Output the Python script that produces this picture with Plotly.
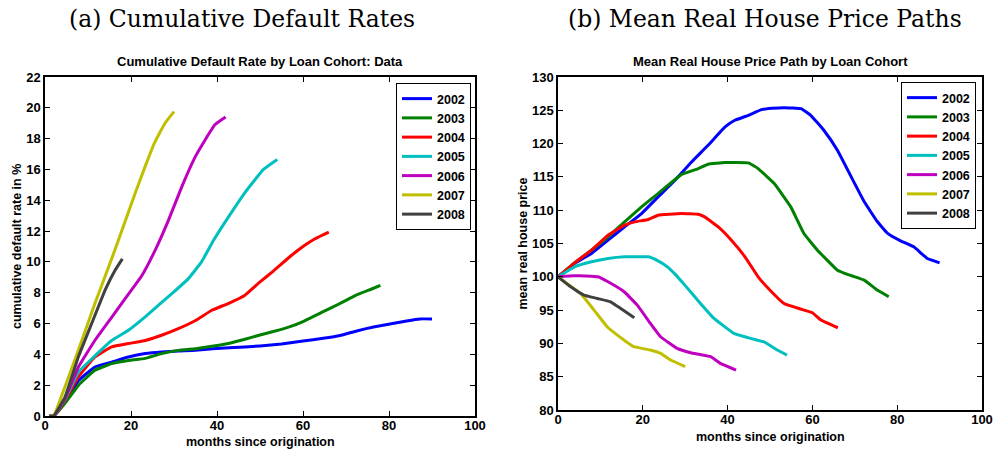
import plotly.graph_objects as go

W, H = 993, 451

cohorts = ["2002", "2003", "2004", "2005", "2006", "2007", "2008"]
colors = ["#0000FF", "#008000", "#FF0000", "#00BFBF", "#BF00BF", "#BFBF00", "#404040"]

# ---- Panel (a): cumulative default rate (%) ----
m02 = [1, 2, 4.6, 7.8, 11.6, 15.5, 19.4, 23.3, 27.1, 31, 35, 39, 46.5, 50, 55, 60, 64.7, 68.6, 72.5, 76.4, 80.2, 84.1, 87.2, 90]
d02 = [0, 0, 0.9, 2.3, 3.18, 3.5, 3.83, 4.05, 4.16, 4.22, 4.26, 4.37, 4.48, 4.55, 4.68, 4.87, 5.04, 5.22, 5.52, 5.78, 5.97, 6.17, 6.3, 6.3]
m03 = [1, 2, 4.6, 7.8, 11.6, 15.5, 19.4, 23.3, 27.1, 31, 35, 38.8, 42.6, 46.5, 50, 53.1, 57, 60, 64.7, 68.6, 72.5, 76.4, 78]
d03 = [0, 0, 0.8, 2.0, 2.97, 3.4, 3.6, 3.74, 4.05, 4.26, 4.37, 4.52, 4.7, 4.98, 5.26, 5.48, 5.8, 6.13, 6.77, 7.3, 7.86, 8.29, 8.48]
m04 = [1, 2, 4.6, 7.8, 11.6, 15.5, 19.4, 23.3, 27.1, 31, 35, 38.8, 42.6, 46.5, 50, 53.1, 57, 60, 62.8, 66]
d04 = [0, 0, 1.0, 2.55, 3.83, 4.48, 4.7, 4.9, 5.24, 5.67, 6.2, 6.86, 7.3, 7.84, 8.7, 9.4, 10.35, 11.0, 11.5, 11.93]
m05 = [1, 2, 4.6, 7.8, 11.6, 15.5, 19.4, 23.3, 26.4, 29.5, 33.3, 36.4, 39.2, 43.1, 46.5, 50.8, 54]
d05 = [0, 0, 1.05, 2.86, 3.9, 4.9, 5.56, 6.43, 7.19, 7.94, 8.9, 10.0, 11.4, 13.1, 14.5, 16.0, 16.65]
m06 = [1, 2, 4.6, 7.8, 11.6, 15.5, 18.6, 22.5, 25.6, 28.7, 31.8, 34.9, 37.2, 39.5, 42]
d06 = [0, 0, 1.1, 3.2, 4.9, 6.4, 7.6, 9.1, 10.75, 12.7, 14.87, 16.8, 17.9, 18.9, 19.4]
m07 = [1, 2, 4.65, 7.75, 11.6, 15.5, 18.6, 20.9, 23.3, 25.6, 27.9, 30]
d07 = [0, 0, 1.9, 4.26, 7.3, 10.2, 12.6, 14.4, 16.2, 17.8, 19.0, 19.75]
m08 = [1, 2, 4.65, 7.75, 10.85, 13.95, 16.3, 18]
d08 = [0, 0, 1.23, 3.83, 6.0, 8.16, 9.46, 10.2]

# ---- Panel (b): mean real house price ----
p02m = [0, 3.9, 7.9, 11.8, 15.7, 19.7, 23.6, 27.6, 31.5, 35.4, 39.4, 41.7, 44.9, 48, 50.5, 53.3, 57.3, 59.6, 62.7, 65.9, 69, 72.2, 75.3, 77.6, 80.8, 83.9, 87.1, 90]
p02v = [100, 102, 103.5, 105.5, 107.5, 109.5, 112, 114.5, 117.25, 119.75, 122.5, 123.5, 124.25, 125.1, 125.3, 125.4, 125.25, 124.25, 122, 119, 115.2, 111.3, 108.3, 106.6, 105.4, 104.5, 102.75, 102.1]
p03m = [0, 3.9, 7.9, 11.8, 15.7, 19.7, 23.6, 29.1, 33.1, 35.4, 39.4, 44.9, 47.2, 51, 54.9, 58, 61.2, 65.9, 69, 72.2, 75.3, 78]
p03v = [100, 102.1, 104, 106, 108.25, 110.5, 112.5, 115.35, 116.25, 116.9, 117.15, 117.1, 116.25, 114, 110.5, 106.5, 104, 101, 100.2, 99.5, 98, 97]
p04m = [0, 3.9, 7.9, 11.8, 15.7, 18.1, 21.3, 23.6, 29.1, 33.1, 34.6, 37.8, 40.9, 44.1, 47.2, 49.4, 53.3, 57, 60, 62, 66]
p04v = [100, 102.1, 104, 106.25, 107.75, 108.25, 108.6, 109.25, 109.5, 109.4, 109, 107.5, 105.5, 103, 100, 98.4, 96, 95.2, 94.6, 93.5, 92.35]
p05m = [0, 3.9, 7.9, 11.8, 15.7, 21.3, 23.6, 25.8, 27.6, 29.7, 33.6, 36.8, 41.5, 45.4, 48.5, 51.7, 54]
p05v = [100, 101.5, 102.25, 102.75, 103, 103, 102.4, 101.5, 100.4, 98.9, 96, 93.75, 91.5, 90.75, 90.25, 89, 88.25]
p06m = [0, 3.9, 7.9, 9.4, 11.8, 15.6, 18.7, 21.8, 24.2, 28.1, 31.3, 36, 38.3, 42]
p06v = [100, 100.15, 100.1, 100, 99.25, 97.75, 95.75, 93, 91, 89.25, 88.6, 88, 87, 86]
p07m = [0, 3, 5.3, 8.5, 11.6, 14, 17.9, 21.8, 24.2, 26.6, 30]
p07v = [100, 98.6, 97.5, 95, 92.5, 91.25, 89.5, 89, 88.5, 87.5, 86.5]
p08m = [0, 3, 6.1, 9.3, 12.4, 14.8, 18]
p08v = [100, 98.5, 97.25, 96.75, 96.25, 95.25, 93.85]

left_m = [m02, m03, m04, m05, m06, m07, m08]
left_v = [d02, d03, d04, d05, d06, d07, d08]
right_m = [p02m, p03m, p04m, p05m, p06m, p07m, p08m]
right_v = [p02v, p03v, p04v, p05v, p06v, p07v, p08v]

x_ticks = [0, 20, 40, 60, 80, 100]
y1_ticks = list(range(0, 23, 2))
y2_ticks = list(range(80, 131, 5))

SANS = "Liberation Sans, Arial, sans-serif"
SERIF = "DejaVu Serif, serif"
LW = 3

fig = go.Figure()
for i, c in enumerate(cohorts):
    fig.add_trace(go.Scatter(x=left_m[i], y=left_v[i], mode="lines", name=c,
                             line=dict(color=colors[i], width=LW, shape="spline", smoothing=0.3),
                             xaxis="x", yaxis="y", legend="legend"))
for i, c in enumerate(cohorts):
    fig.add_trace(go.Scatter(x=right_m[i], y=right_v[i], mode="lines", name=c,
                             line=dict(color=colors[i], width=LW, shape="spline", smoothing=0.3),
                             xaxis="x2", yaxis="y2", legend="legend2"))

def px(xp):
    return xp / W

def py(yp):
    return (H - yp) / H

axis_common = dict(showline=True, linecolor="black", linewidth=1.5, mirror="ticks",
                   ticks="inside", ticklen=5, tickwidth=1, tickcolor="black",
                   showgrid=False, zeroline=False, automargin=False,
                   tickfont=dict(family=SANS, size=13, color="black", weight="bold"))

legend_common = dict(xanchor="right", yanchor="top",
                     bgcolor="white", bordercolor="black", borderwidth=1,
                     font=dict(family=SANS, size=12.5, color="black", weight="bold"),
                     itemwidth=30, tracegroupgap=0)

# left axes pixel box: x 45..475, y 77..416 ; right: x 558..982, y 77..410
fig.update_layout(
    width=W, height=H,
    margin=dict(l=0, r=0, t=0, b=0, autoexpand=False),
    paper_bgcolor="white", plot_bgcolor="white",
    xaxis=dict(domain=[px(45), px(475)], range=[0, 100], tickvals=x_ticks, anchor="y",
               ticklabelstandoff=-3, **axis_common),
    yaxis=dict(domain=[py(416), py(77)], range=[0, 22], tickvals=y1_ticks, anchor="x", **axis_common),
    xaxis2=dict(domain=[px(558), px(982)], range=[0, 100], tickvals=x_ticks, anchor="y2",
                ticklabelstandoff=-3, **axis_common),
    yaxis2=dict(domain=[py(410), py(77)], range=[80, 130], tickvals=y2_ticks, anchor="x2", **axis_common),
    legend=dict(x=px(471), y=py(83), **legend_common),
    legend2=dict(x=px(976), y=py(82), **legend_common),
    showlegend=True,
)

def label(text, xp, yp, font, angle=0):
    return dict(text=text, x=px(xp), y=py(yp), xref="paper", yref="paper",
                xanchor="center", yanchor="middle", textangle=angle,
                showarrow=False, font=font)

f_title = dict(family=SERIF, size=23.5, color="black")
f_sub = dict(family=SANS, size=13, color="black", weight="bold")
f_ax = dict(family=SANS, size=12.5, color="black", weight="bold")

ann = [
    label("(a) Cumulative Default Rates", 242, 19, f_title),
    label("(b) Mean Real House Price Paths", 765, 19, f_title),
    label("Cumulative Default Rate by Loan Cohort: Data", 260, 61, f_sub),
    label("Mean Real House Price Path by Loan Cohort", 770, 61, f_sub),
    label("months since origination", 260, 442, f_ax),
    label("months since origination", 770, 437, f_ax),
    label("cumulative default rate in %", 16.5, 246.5, f_ax, -90),
    label("mean real house price", 522, 243.5, f_ax, -90),
]
fig.update_layout(annotations=ann)

fig.write_html("out.html")
